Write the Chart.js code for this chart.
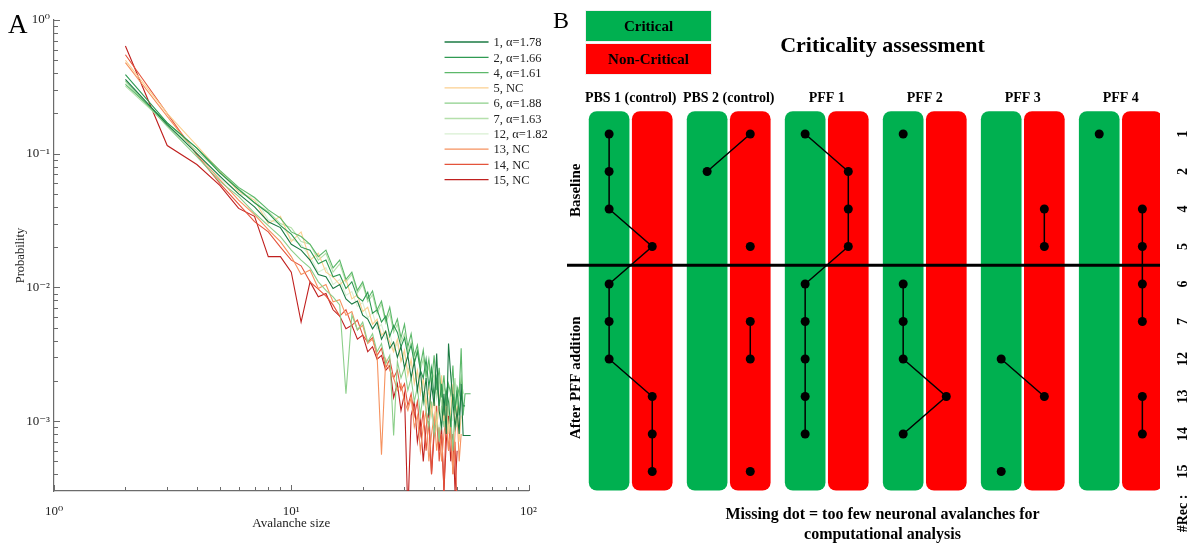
<!DOCTYPE html>
<html>
<head>
<meta charset="utf-8">
<title>Avalanche size distributions and criticality assessment</title>
<script src="https://cdn.jsdelivr.net/npm/chart.js@4.4.1/dist/chart.umd.min.js"></script>
<style>
  html, body { margin: 0; padding: 0; background: #fff; }
  #wrap { position: relative; width: 1200px; height: 544px; }
  #sizeChart { position: absolute; left: 0; top: 0; }
  #critChart { position: absolute; left: 550px; top: 0; }
</style>
</head>
<body>
<div id="wrap">
  <canvas id="sizeChart" width="550" height="544"></canvas>
  <canvas id="critChart" width="650" height="544"></canvas>
</div>
<script>
const SERIF = "'Liberation Serif', 'DejaVu Serif', serif";

// ---------- Panel A data: avalanche size distributions ----------
const sizes = [2, 3, 4, 5, 6, 7, 8, 9, 10, 11, 12, 13, 14, 15, 16, 17, 18, 19, 20,
  21, 22, 23, 24, 25, 26, 27, 28, 29, 30, 31, 32, 33, 34, 35, 36, 37, 38, 39, 40,
  41, 42, 43, 44, 45, 46, 47, 48, 49, 50, 51, 52, 53, 54, 55, 56, 57, 58];

const seriesLabels = ['1, α=1.78', '2, α=1.66', '4, α=1.61', '5, NC', '6, α=1.88',
  '7, α=1.63', '12, α=1.82', '13, NC', '14, NC', '15, NC'];
const seriesColors = ['#1b7a43', '#2f9a52', '#5cb86a', '#fbcf8f', '#8ccf8a',
  '#b5e0ab', '#d8efd2', '#f6925f', '#e4533b', '#c0201f'];

const rec1 = [0.36, 0.165, 0.10, 0.068, 0.05, 0.04, 0.031, 0.028, 0.021, 0.019,
  0.016, 0.0125, 0.012, 0.0098, 0.0105, 0.0082, 0.0075, 0.0079, 0.0062, 0.0058,
  0.0049, 0.0055, 0.0041, 0.0047, 0.0035, 0.0039, 0.003, 0.0036, 0.0025, 0.0031,
  0.0021, 0.0028, 0.0017, 0.0024, 0.0014, 0.0021, 0.0011, 0.0019, 0.0013, 0.0032,
  0.0012, 0.0009, 0.0016, 0.0008, 0.0038, 0.0022, 0.0014, 0.0009, 0.0012, 0.0008,
  0.0019, 0.00078, 0.00078, 0.00078, 0.00078, 0.00078];
const rec2 = [0.39, 0.17, 0.11, 0.072, 0.054, 0.043, 0.036, 0.029, 0.025, 0.02,
  0.019, 0.015, 0.016, 0.012, 0.0125, 0.0098, 0.011, 0.0085, 0.0079, 0.0092,
  0.0064, 0.0068, 0.0055, 0.0061, 0.0043, 0.0052, 0.0046, 0.0036, 0.0042, 0.0031,
  0.0037, 0.0027, 0.0033, 0.0024, 0.0021, 0.0029, 0.0018, 0.0025, 0.0015, 0.0021,
  0.0013, 0.0019, 0.0011, 0.0017, 0.0014, 0.0009, 0.0016, 0.0012, 0.0017, 0.0011,
  0.0016, 0.0013, 0.0013];
const rec4 = [0.33, 0.17, 0.11, 0.075, 0.056, 0.047, 0.038, 0.033, 0.026, 0.024,
  0.021, 0.017, 0.019, 0.014, 0.016, 0.0115, 0.013, 0.0095, 0.011, 0.0082,
  0.0094, 0.0068, 0.0079, 0.0057, 0.0071, 0.0049, 0.0058, 0.0042, 0.0053, 0.0036,
  0.0045, 0.0031, 0.0037, 0.0026, 0.0034, 0.0022, 0.0029, 0.0019, 0.0031, 0.0017,
  0.0025, 0.0015, 0.0022, 0.0013, 0.0019, 0.0016, 0.0026, 0.0012, 0.0018, 0.0016,
  0.0035, 0.0011, 0.0016, 0.0016, 0.0016, 0.0016];
const rec5 = [0.5, 0.2, 0.115, 0.074, 0.052, 0.045, 0.03, 0.034, 0.022, 0.026,
  0.016, 0.018, 0.013, 0.012, 0.0105, 0.0115, 0.0082, 0.0088, 0.0066, 0.0071,
  0.0053, 0.0058, 0.0044, 0.0047, 0.0039, 0.0033, 0.0041, 0.0028, 0.0034, 0.0022,
  0.0029, 0.0019, 0.0024, 0.0016, 0.0021, 0.0013, 0.0018, 0.0011, 0.0015, 0.0009,
  0.0013, 0.0022, 0.0010, 0.0014, 0.0008, 0.0012, 0.0019, 0.0009, 0.0013, 0.0007,
  0.0011];
const rec6 = [0.35, 0.16, 0.095, 0.062, 0.048, 0.036, 0.029, 0.024, 0.019, 0.016,
  0.014, 0.011, 0.0095, 0.0085, 0.0074, 0.0016, 0.0062, 0.0048, 0.0055, 0.0039,
  0.0045, 0.0033, 0.0038, 0.0027, 0.0031, 0.00078, 0.0028, 0.0021, 0.0025, 0.0017,
  0.0021, 0.0014, 0.0018, 0.0011, 0.0016, 0.0012, 0.0009, 0.0014, 0.0008, 0.0011,
  0.0007, 0.0013, 0.0009, 0.0016, 0.0008, 0.0011, 0.0006, 0.0014, 0.0009, 0.0016,
  0.0021, 0.0016];
const rec7 = [0.32, 0.165, 0.105, 0.073, 0.055, 0.043, 0.037, 0.03, 0.028, 0.022,
  0.021, 0.016, 0.018, 0.013, 0.015, 0.011, 0.0125, 0.0091, 0.0105, 0.0078,
  0.0088, 0.0064, 0.0075, 0.0054, 0.0064, 0.0046, 0.0053, 0.0039, 0.0045, 0.0033,
  0.0039, 0.0028, 0.0034, 0.0024, 0.0029, 0.0021, 0.0026, 0.0018, 0.0023, 0.0015,
  0.0021, 0.0013, 0.0018, 0.0016, 0.0011, 0.0017, 0.0014, 0.0021, 0.0012, 0.0018];
const rec12 = [0.34, 0.17, 0.1, 0.066, 0.05, 0.047, 0.032, 0.03, 0.023, 0.021,
  0.017, 0.013, 0.014, 0.0105, 0.0115, 0.0087, 0.0093, 0.0072, 0.0077, 0.0059,
  0.0065, 0.0049, 0.0053, 0.0041, 0.0046, 0.0034, 0.0038, 0.0028, 0.0032, 0.0024,
  0.0027, 0.002, 0.0023, 0.0017, 0.002, 0.0014, 0.0017, 0.0012, 0.0015, 0.001,
  0.0013, 0.0009, 0.0011, 0.0014, 0.0008, 0.0012, 0.001];
const rec13 = [0.48, 0.19, 0.1, 0.064, 0.045, 0.035, 0.027, 0.022, 0.017, 0.0125,
  0.0135, 0.0098, 0.0105, 0.0078, 0.0081, 0.0062, 0.0066, 0.0048, 0.0052, 0.0038,
  0.0041, 0.0031, 0.00056, 0.0029, 0.0024, 0.0021, 0.0017, 0.0019, 0.0014, 0.0012,
  0.0015, 0.0009, 0.0011, 0.0006, 0.0009, 0.0012, 0.0005, 0.0008, 0.0011, 0.0006,
  0.0009, 0.0005, 0.0008, 0.0011, 0.0006, 0.0009, 0.0004, 0.0008, 0.0012, 0.0005,
  0.0008];
const rec14 = [0.55, 0.2, 0.098, 0.06, 0.042, 0.031, 0.026, 0.02, 0.016, 0.0145,
  0.011, 0.0097, 0.0086, 0.0074, 0.0061, 0.0068, 0.0052, 0.0057, 0.0044, 0.0039,
  0.0042, 0.0031, 0.0035, 0.0025, 0.0029, 0.0021, 0.0024, 0.0017, 0.0019, 0.0013,
  0.0016, 0.0011, 0.0014, 0.0008, 0.0012, 0.0006, 0.001, 0.0004, 0.0009, 0.0013,
  0.0005, 0.0008, 0.0003, 0.0011, 0.0006, 0.0009, 0.0004, 0.0007, 0.0002, 0.0002,
  0.0002];
const rec15 = [0.64, 0.115, 0.083, 0.058, 0.039, 0.034, 0.017, 0.017, 0.013, 0.0055,
  0.011, 0.0085, 0.009, 0.0068, 0.0061, 0.0049, 0.0052, 0.0041, 0.0044, 0.0033,
  0.0036, 0.0029, 0.0031, 0.0024, 0.0026, 0.0015, 0.0019, 0.0012, 0.0016, 0.0002,
  0.0011, 0.0014, 0.0007, 0.001, 0.0005, 0.0009, 0.0012, 0.0004, 0.0008, 0.0011,
  0.0006, 0.0009, 0.0003, 0.0007, 0.0011, 0.0005, 0.0008, 0.0003, 0.0006];

const seriesValues = [rec1, rec2, rec4, rec5, rec6, rec7, rec12, rec13, rec14, rec15];

const xMajorTicks = [1, 10, 100];
const yMajorTicks = [0.001, 0.01, 0.1, 1];
const powerLabels = { 1: '10⁰', 10: '10¹', 100: '10²', 0.1: '10⁻¹', 0.01: '10⁻²', 0.001: '10⁻³' };

// ---------- Panel B data: criticality per recording ----------
const groups = ['PBS 1 (control)', 'PBS 2 (control)', 'PFF 1', 'PFF 2', 'PFF 3', 'PFF 4'];
const recordings = ['1', '2', '4', '5', '6', '7', '12', '13', '14', '15'];
const baselineCount = 4; // recordings 1-5 are baseline, the rest after PFF addition
// C = critical, N = non-critical, null = too few avalanches
const pbs1 = ['C', 'C', 'C', 'N', 'C', 'C', 'C', 'N', 'N', 'N'];
const pbs2 = ['N', 'C', null, 'N', null, 'N', 'N', null, null, 'N'];
const pff1 = ['C', 'N', 'N', 'N', 'C', 'C', 'C', 'C', 'C', null];
const pff2 = ['C', null, null, null, 'C', 'C', 'C', 'N', 'C', null];
const pff3 = [null, null, 'N', 'N', null, null, 'C', 'N', null, 'C'];
const pff4 = ['C', null, 'N', 'N', 'N', 'N', null, 'N', 'N', null];
const stateRows = [pbs1, pbs2, pff1, pff2, pff3, pff4];

const GREEN = '#00b050';
const RED = '#ff0000';
const AXIS_GREY = '#6b6b6b';

// ---------- helpers ----------
function logTicks(majors, min, max) {
  const out = [];
  const decades = [majors[0] / 10].concat(majors);
  decades.forEach(m => {
    for (let k = 1; k <= 9; k++) {
      const v = m * k;
      if (v >= min && v <= max * 1.0001) out.push(k === 1 ? m : v);
    }
  });
  return out;
}

function rotatedText(ctx, text, x, y, font) {
  ctx.save();
  ctx.translate(x, y);
  ctx.rotate(-Math.PI / 2);
  ctx.font = font;
  ctx.fillStyle = '#000';
  ctx.textAlign = 'center';
  ctx.textBaseline = 'middle';
  ctx.fillText(text, 0, 0);
  ctx.restore();
}

// inward ticks, like the original figure
const innerTicks = {
  id: 'innerTicks',
  afterDraw(chart) {
    const { ctx, chartArea: a, scales: { x, y } } = chart;
    ctx.save();
    ctx.strokeStyle = AXIS_GREY;
    ctx.lineWidth = 1;
    ctx.beginPath();
    x.ticks.forEach(t => {
      const px = Math.round(x.getPixelForValue(t.value)) + 0.5;
      const len = xMajorTicks.includes(t.value) ? 6 : 4;
      ctx.moveTo(px, a.bottom);
      ctx.lineTo(px, a.bottom - len);
    });
    y.ticks.forEach(t => {
      const py = Math.round(y.getPixelForValue(t.value)) + 0.5;
      const len = yMajorTicks.includes(t.value) ? 6 : 4;
      ctx.moveTo(a.left, py);
      ctx.lineTo(a.left + len, py);
    });
    ctx.stroke();
    ctx.restore();
  }
};

// legend drawn inside the plot area (top right)
const lineLegend = {
  id: 'lineLegend',
  afterDraw(chart) {
    const { ctx, chartArea: a } = chart;
    ctx.save();
    ctx.font = '12.5px ' + SERIF;
    ctx.textBaseline = 'middle';
    ctx.textAlign = 'left';
    chart.data.datasets.forEach((ds, i) => {
      const yy = a.top + 22 + i * 15.3;
      ctx.strokeStyle = ds.borderColor;
      ctx.lineWidth = 1.3;
      ctx.beginPath();
      ctx.moveTo(a.right - 84, yy);
      ctx.lineTo(a.right - 40, yy);
      ctx.stroke();
      ctx.fillStyle = '#222';
      ctx.fillText(ds.label, a.right - 35, yy + 1);
    });
    ctx.restore();
  }
};

const panelLetterA = {
  id: 'panelLetterA',
  afterDraw(chart) {
    const ctx = chart.ctx;
    ctx.save();
    ctx.font = '27px ' + SERIF;
    ctx.fillStyle = '#000';
    ctx.textBaseline = 'alphabetic';
    ctx.fillText('A', 8, 33);
    ctx.restore();
  }
};

// ---------- Panel A chart ----------
new Chart(document.getElementById('sizeChart'), {
  type: 'line',
  data: {
    datasets: seriesValues.map((vals, i) => ({
      label: seriesLabels[i],
      data: vals.map((p, j) => ({ x: sizes[j], y: p })),
      borderColor: seriesColors[i],
      backgroundColor: seriesColors[i],
      borderWidth: 1.1,
      pointRadius: 0,
      tension: 0,
      fill: false
    }))
  },
  options: {
    responsive: false,
    animation: false,
    layout: { padding: { top: 20, right: 15, left: 0, bottom: 0 } },
    scales: {
      x: {
        type: 'logarithmic',
        min: 1,
        max: 100,
        afterBuildTicks: (scale) => {
          scale.ticks = logTicks(xMajorTicks, 1, 100).map(v => ({ value: v }));
        },
        afterFit: (scale) => { scale.height = 53; },
        grid: { display: false, drawTicks: false },
        border: { display: true, color: AXIS_GREY, width: 1.2 },
        ticks: {
          autoSkip: false,
          maxRotation: 0,
          padding: 13,
          color: '#222',
          font: { family: SERIF, size: 13 },
          callback: (value) => powerLabels[value] || ''
        },
        title: {
          display: true,
          text: 'Avalanche size',
          color: '#222',
          font: { family: SERIF, size: 13 },
          padding: { top: 0, bottom: 13 }
        }
      },
      y: {
        type: 'logarithmic',
        min: Math.pow(10, -3.5),
        max: 1,
        afterBuildTicks: (scale) => {
          scale.ticks = logTicks(yMajorTicks, Math.pow(10, -3.5), 1).map(v => ({ value: v }));
        },
        afterFit: (scale) => { scale.width = 54; },
        grid: { display: false, drawTicks: false },
        border: { display: true, color: AXIS_GREY, width: 1.2 },
        ticks: {
          autoSkip: false,
          padding: 4,
          color: '#222',
          font: { family: SERIF, size: 13 },
          callback: (value) => powerLabels[value] || ''
        },
        title: {
          display: true,
          text: 'Probability',
          color: '#222',
          font: { family: SERIF, size: 12.5 },
          padding: { top: 13, bottom: 0 }
        }
      }
    },
    plugins: {
      legend: { display: false },
      tooltip: { enabled: false }
    }
  },
  plugins: [innerTicks, lineLegend, panelLetterA]
});

// ---------- Panel B plugins ----------
const stateLegend = {
  id: 'stateLegend',
  afterDraw(chart) {
    const ctx = chart.ctx;
    const bars = chart.data.datasets.filter(d => d.type === 'bar');
    ctx.save();
    bars.forEach((d, i) => {
      const top = 10 + i * 33;
      ctx.fillStyle = d.backgroundColor;
      ctx.fillRect(35, top, 127, 32);
      ctx.strokeStyle = '#f0f0f0';
      ctx.lineWidth = 1;
      ctx.strokeRect(35.5, top + 0.5, 126, 31);
      ctx.fillStyle = '#000';
      ctx.font = 'bold 15px ' + SERIF;
      ctx.textAlign = 'center';
      ctx.textBaseline = 'middle';
      ctx.fillText(d.label, 98.5, top + 17);
    });
    ctx.font = '24px ' + SERIF;
    ctx.textAlign = 'left';
    ctx.textBaseline = 'alphabetic';
    ctx.fillText('B', 3, 28);
    ctx.restore();
  }
};

const recordAnnotations = {
  id: 'recordAnnotations',
  afterDatasetsDraw(chart) {
    const { ctx, chartArea: a, scales: { y } } = chart;
    // divider between baseline and after PFF addition
    const dy = y.getPixelForValue(baselineCount - 0.5);
    ctx.save();
    ctx.strokeStyle = '#000';
    ctx.lineWidth = 3;
    ctx.beginPath();
    ctx.moveTo(a.left + 2, dy);
    ctx.lineTo(a.right, dy);
    ctx.stroke();
    ctx.restore();

    const labelFont = 'bold 14px ' + SERIF;
    recordings.forEach((r, i) => {
      rotatedText(ctx, r, a.right + 23, y.getPixelForValue(i), labelFont);
    });
    rotatedText(ctx, '#Rec :', a.right + 23, y.getPixelForValue(recordings.length - 1) + 42, labelFont);

    const phaseFont = 'bold 15px ' + SERIF;
    rotatedText(ctx, 'Baseline', a.left + 11, y.getPixelForValue((baselineCount - 1) / 2), phaseFont);
    rotatedText(ctx, 'After PFF addition', a.left + 11,
      y.getPixelForValue((baselineCount + recordings.length - 1) / 2), phaseFont);
  }
};

// ---------- Panel B chart ----------
const colOffset = { C: -0.22, N: 0.22 };
const colSpan = [-0.6, 9.5];

new Chart(document.getElementById('critChart'), {
  type: 'bar',
  data: {
    datasets: [
      {
        type: 'bar',
        label: 'Critical',
        data: groups.map((g, i) => ({ x: i + colOffset.C, y: colSpan })),
        backgroundColor: GREEN,
        barThickness: 40,
        borderRadius: 8,
        borderSkipped: false,
        grouped: false,
        order: 3
      },
      {
        type: 'bar',
        label: 'Non-Critical',
        data: groups.map((g, i) => ({ x: i + colOffset.N, y: colSpan })),
        backgroundColor: RED,
        barThickness: 40,
        borderRadius: 8,
        borderSkipped: false,
        grouped: false,
        order: 3
      }
    ].concat(stateRows.map((row, g) => ({
      type: 'line',
      label: groups[g],
      data: row.map((s, i) => ({ x: s ? g + colOffset[s] : g, y: s ? i : null })),
      borderColor: '#000',
      backgroundColor: '#000',
      borderWidth: 1.5,
      pointRadius: 4.5,
      pointBorderWidth: 0,
      pointBackgroundColor: '#000',
      spanGaps: false,
      tension: 0,
      order: 1
    })))
  },
  options: {
    responsive: false,
    animation: false,
    layout: { padding: { left: 15, right: 0, top: 0, bottom: 0 } },
    scales: {
      x: {
        type: 'linear',
        position: 'top',
        min: -0.67,
        max: 5.4,
        offset: false,
        afterBuildTicks: (scale) => {
          scale.ticks = groups.map((g, i) => ({ value: i }));
        },
        afterFit: (scale) => { scale.height = 24; },
        grid: { display: false, drawTicks: false },
        border: { display: false },
        ticks: {
          autoSkip: false,
          maxRotation: 0,
          minRotation: 0,
          padding: 1,
          color: '#000',
          font: { family: SERIF, size: 14, weight: 'bold' },
          callback: (value) => groups[value] || ''
        }
      },
      y: {
        type: 'linear',
        position: 'right',
        reverse: true,
        min: -0.693,
        max: 9.76,
        afterFit: (scale) => { scale.width = 40; },
        grid: { display: false, drawTicks: false },
        border: { display: false },
        ticks: { display: false }
      }
    },
    plugins: {
      legend: { display: false },
      tooltip: { enabled: false },
      title: {
        display: true,
        text: 'Criticality assessment',
        color: '#000',
        font: { family: SERIF, size: 22, weight: 'bold' },
        padding: { top: 33, bottom: 24.6 }
      },
      subtitle: {
        display: true,
        position: 'bottom',
        text: ['Missing dot = too few neuronal avalanches for', 'computational analysis'],
        color: '#000',
        font: { family: SERIF, size: 16, weight: 'bold' },
        padding: { top: 5.6, bottom: 0 }
      }
    }
  },
  plugins: [stateLegend, recordAnnotations]
});
</script>
</body>
</html>
